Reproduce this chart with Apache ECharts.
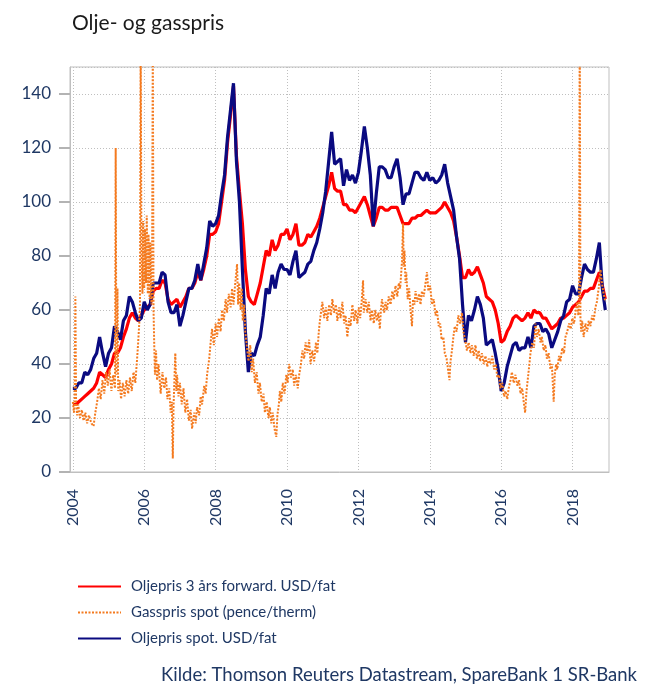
<!DOCTYPE html>
<html>
<head>
<meta charset="utf-8">
<script src="https://cdn.jsdelivr.net/npm/echarts/dist/echarts.min.js"></script>
<style>
html,body{margin:0;padding:0;background:#fff;}
#c{width:654px;height:696px;}
</style>
</head>
<body>
<div id="c"></div>
<script>
// ---- data ----
const startYear = 2004; // monthly series start Jan 2004
const yearTicks = [2004, 2006, 2008, 2010, 2012, 2014, 2016, 2018];

// Oljepris spot, USD/fat (monthly)
const oilSpot = [
  31, 31, 33, 33, 37, 36, 38, 42, 44, 50, 44, 39,
  44, 46, 54, 52, 49, 56, 58, 65, 63, 59, 56, 57,
  63, 60, 62, 70, 70, 70, 74, 73, 63, 59, 59, 62,
  54, 58, 63, 68, 68, 71, 77, 71, 77, 83, 93, 91,
  92, 95, 103, 110, 124, 134, 144, 115, 100, 75, 52, 37,
  44, 43, 47, 50, 58, 68, 66, 73, 68, 74, 77, 75,
  75, 73, 78, 82, 72, 73, 74, 77, 78, 82, 85, 90,
  96, 104, 115, 126, 114, 115, 116, 106, 112, 108, 110, 107,
  111, 119, 128, 120, 110, 91, 103, 113, 113, 112, 109, 109,
  113, 116, 109, 99, 103, 103, 107, 111, 111, 109, 108, 111,
  108, 109, 107, 108, 110, 114, 107, 102, 97, 87, 79, 62,
  48, 58, 56, 60, 65, 62, 57, 47, 48, 49, 44, 38,
  30, 33, 39, 43, 47, 48, 45, 46, 46, 50, 46, 54,
  55, 55, 52, 53, 51, 46, 49, 52, 56, 58, 63, 64,
  69, 66, 66, 72, 77, 75, 74, 74, 79, 85, 68, 60
];

// Oljepris 3 års forward, USD/fat (monthly)
const oilForward = [
  25, 25, 26, 27, 28, 29, 30, 31, 33, 37, 36, 35,
  38, 40, 44, 44, 46, 50, 53, 57, 59, 57, 56, 58,
  60, 61, 62, 67, 68, 68, 71, 70, 64, 62, 63, 64,
  61, 63, 65, 68, 68, 70, 74, 71, 75, 80, 88, 88,
  89, 92, 100, 108, 122, 132, 143, 117, 104, 92, 75, 65,
  63, 62, 66, 70, 76, 82, 80, 86, 82, 84, 88, 88,
  90, 86, 88, 92, 84, 84, 85, 88, 87, 89, 91, 94,
  98, 102, 106, 111, 105, 104, 104, 99, 99, 97, 97, 96,
  98, 100, 102, 99, 95, 91, 94, 98, 98, 97, 97, 98,
  98, 98, 95, 92, 92, 92, 94, 94, 95, 95, 96, 97,
  96, 96, 96, 97, 98, 100, 98, 96, 93, 87, 80, 72,
  72, 75, 73, 74, 76, 73, 70, 65, 64, 63, 60, 55,
  48, 49, 52, 54, 57, 58, 57, 56, 57, 59, 57, 60,
  59, 59, 57, 57, 55, 53, 54, 55, 57, 57, 58, 59,
  61, 62, 63, 65, 67, 67, 68, 68, 71, 74, 69, 64
];

// Gasspris spot, pence/therm: [year, value]
const gasSpot = [
  [2004.00, 26], [2004.03, 22], [2004.05, 27], [2004.07, 65], [2004.09, 25], [2004.12, 21], [2004.15, 25],
  [2004.20, 20], [2004.25, 23], [2004.30, 19], [2004.35, 22], [2004.40, 18], [2004.45, 21], [2004.52, 18],
  [2004.58, 17], [2004.63, 22], [2004.68, 26], [2004.73, 31], [2004.78, 27], [2004.83, 34], [2004.88, 29],
  [2004.93, 37], [2004.98, 32], [2005.03, 38], [2005.08, 30], [2005.13, 36], [2005.18, 31], [2005.20, 120],
  [2005.22, 36], [2005.25, 68], [2005.27, 30], [2005.31, 34], [2005.35, 27], [2005.40, 33], [2005.45, 28],
  [2005.50, 34], [2005.55, 29], [2005.60, 35], [2005.65, 30], [2005.70, 37], [2005.75, 33], [2005.80, 42],
  [2005.83, 48], [2005.86, 55], [2005.88, 62], [2005.90, 160], [2005.92, 85], [2005.95, 66], [2005.97, 93],
  [2006.00, 68], [2006.02, 90], [2006.05, 70], [2006.07, 95], [2006.10, 66], [2006.12, 88], [2006.15, 64],
  [2006.17, 85], [2006.20, 62], [2006.22, 74], [2006.24, 160], [2006.26, 60], [2006.28, 47], [2006.30, 36],
  [2006.33, 45], [2006.36, 34], [2006.40, 40], [2006.46, 29], [2006.51, 37], [2006.56, 31], [2006.61, 35],
  [2006.65, 27], [2006.70, 31], [2006.74, 22], [2006.77, 26], [2006.80, 5], [2006.82, 24], [2006.84, 32],
  [2006.87, 44], [2006.90, 30], [2006.92, 36], [2006.96, 28], [2007.00, 33], [2007.05, 25], [2007.10, 31],
  [2007.15, 22], [2007.20, 27], [2007.25, 19], [2007.30, 23], [2007.34, 16], [2007.40, 22], [2007.44, 18],
  [2007.48, 24], [2007.54, 21], [2007.58, 28], [2007.62, 25], [2007.68, 32], [2007.72, 29], [2007.76, 36],
  [2007.82, 42], [2007.86, 48], [2007.90, 53], [2007.95, 47], [2008.00, 55], [2008.04, 50], [2008.09, 57],
  [2008.14, 52], [2008.18, 60], [2008.23, 56], [2008.28, 64], [2008.32, 59], [2008.37, 66], [2008.42, 61],
  [2008.46, 68], [2008.50, 62], [2008.55, 70], [2008.60, 77], [2008.63, 62], [2008.66, 70], [2008.70, 60],
  [2008.73, 68], [2008.76, 56], [2008.80, 62], [2008.83, 52], [2008.88, 46], [2008.92, 41], [2008.97, 47],
  [2009.01, 37], [2009.05, 42], [2009.10, 33], [2009.15, 37], [2009.20, 29], [2009.24, 33], [2009.29, 26],
  [2009.34, 29], [2009.38, 22], [2009.43, 26], [2009.48, 20], [2009.52, 24], [2009.56, 18], [2009.60, 22],
  [2009.65, 16], [2009.70, 13], [2009.73, 21], [2009.77, 25], [2009.80, 30], [2009.84, 26], [2009.88, 33],
  [2009.93, 29], [2009.98, 36], [2010.02, 33], [2010.06, 40], [2010.11, 35], [2010.16, 38], [2010.20, 32],
  [2010.25, 36], [2010.30, 31], [2010.34, 36], [2010.39, 40], [2010.43, 45], [2010.48, 42], [2010.52, 48],
  [2010.57, 44], [2010.62, 49], [2010.66, 40], [2010.71, 45], [2010.76, 41], [2010.81, 48], [2010.85, 44],
  [2010.89, 52], [2010.92, 56], [2010.96, 60], [2010.99, 63], [2011.04, 57], [2011.09, 61], [2011.13, 56],
  [2011.18, 62], [2011.23, 58], [2011.27, 64], [2011.32, 59], [2011.37, 62], [2011.41, 56], [2011.46, 61],
  [2011.50, 57], [2011.55, 63], [2011.60, 55], [2011.64, 58], [2011.69, 50], [2011.74, 57], [2011.78, 54],
  [2011.83, 62], [2011.88, 56], [2011.92, 60], [2011.97, 55], [2012.01, 61], [2012.05, 57], [2012.09, 63],
  [2012.13, 71], [2012.15, 59], [2012.20, 64], [2012.25, 59], [2012.29, 63], [2012.34, 56], [2012.38, 60],
  [2012.43, 55], [2012.47, 60], [2012.52, 56], [2012.56, 59], [2012.60, 53], [2012.63, 60], [2012.66, 64],
  [2012.72, 59], [2012.76, 63], [2012.80, 60], [2012.85, 65], [2012.90, 62], [2012.95, 67], [2012.99, 64],
  [2013.04, 69], [2013.09, 65], [2013.13, 70], [2013.17, 68], [2013.22, 78], [2013.25, 92], [2013.27, 76],
  [2013.29, 82], [2013.32, 70], [2013.34, 74], [2013.38, 64], [2013.42, 68], [2013.46, 60], [2013.50, 54],
  [2013.53, 64], [2013.57, 62], [2013.60, 67], [2013.65, 63], [2013.70, 66], [2013.74, 62], [2013.78, 67],
  [2013.83, 65], [2013.88, 70], [2013.92, 74], [2013.96, 67], [2014.01, 69], [2014.06, 62], [2014.11, 64],
  [2014.16, 58], [2014.20, 60], [2014.25, 54], [2014.29, 55], [2014.33, 49], [2014.38, 50], [2014.42, 44],
  [2014.47, 42], [2014.51, 38], [2014.55, 34], [2014.58, 41], [2014.62, 45], [2014.66, 50], [2014.70, 54],
  [2014.75, 52], [2014.80, 58], [2014.85, 55], [2014.90, 59], [2014.94, 52], [2014.99, 49], [2015.04, 45],
  [2015.09, 48], [2015.14, 44], [2015.18, 47], [2015.23, 43], [2015.28, 47], [2015.32, 42], [2015.37, 45],
  [2015.41, 41], [2015.46, 44], [2015.51, 40], [2015.56, 43], [2015.61, 39], [2015.65, 42], [2015.70, 40],
  [2015.75, 43], [2015.80, 38], [2015.85, 40], [2015.89, 35], [2015.94, 36], [2015.98, 31], [2016.03, 33],
  [2016.08, 28], [2016.12, 30], [2016.17, 27], [2016.21, 31], [2016.26, 34], [2016.30, 37], [2016.35, 33],
  [2016.40, 36], [2016.45, 32], [2016.50, 34], [2016.54, 29], [2016.59, 31], [2016.63, 26], [2016.67, 22],
  [2016.71, 30], [2016.75, 35], [2016.79, 40], [2016.82, 44], [2016.87, 48], [2016.92, 46], [2016.96, 55],
  [2017.00, 50], [2017.05, 53], [2017.10, 48], [2017.14, 50], [2017.19, 45], [2017.24, 47], [2017.28, 42],
  [2017.33, 44], [2017.38, 38], [2017.42, 40], [2017.47, 26], [2017.50, 36], [2017.54, 40], [2017.57, 38],
  [2017.62, 43], [2017.66, 41], [2017.71, 46], [2017.76, 44], [2017.80, 50], [2017.85, 52], [2017.90, 55],
  [2017.95, 53], [2017.99, 57], [2018.04, 55], [2018.09, 60], [2018.13, 63], [2018.16, 58], [2018.18, 64],
  [2018.20, 165], [2018.22, 57], [2018.24, 52], [2018.27, 56], [2018.31, 50], [2018.36, 55], [2018.41, 52],
  [2018.45, 56], [2018.50, 54], [2018.55, 58], [2018.59, 56], [2018.64, 61], [2018.68, 63], [2018.73, 68],
  [2018.78, 75], [2018.82, 70], [2018.87, 66], [2018.92, 63]
];

const seriesNames = ['Oljepris 3 års forward. USD/fat', 'Gasspris spot (pence/therm)', 'Oljepris spot. USD/fat'];

// monthly time stamps (decimal years)
const monthly = (arr) => arr.map((v, i) => [startYear + i / 12, v]);

const FONT = 'Lato, "Open Sans", sans-serif';
const NAVY_TXT = '#1F3864';

const chart = echarts.init(document.getElementById('c'), null, {renderer: 'canvas'});
chart.setOption({
  animation: false,
  backgroundColor: '#ffffff',
  title: [
    {text: 'Olje- og gasspris', left: 67, top: 8,
     textStyle: {fontFamily: FONT, fontSize: 21, fontWeight: 'normal', color: '#1a1a1a'}},
    {text: 'Kilde: Thomson Reuters Datastream, SpareBank 1 SR-Bank', right: 12, top: 661,
     textStyle: {fontFamily: FONT, fontSize: 18.5, fontWeight: 'normal', color: NAVY_TXT}}
  ],
  legend: {
    orient: 'vertical', left: 77, top: 579, padding: 0,
    itemWidth: 43, itemHeight: 14, itemGap: 11,
    data: seriesNames,
    itemStyle: {opacity: 0},
    textStyle: {fontFamily: FONT, fontSize: 15, color: NAVY_TXT, padding: [0, 0, 0, 5]}
  },
  grid: {left: 70, right: 45, top: 67, bottom: 224, show: true, borderColor: '#bfbfbf', borderWidth: 1, containLabel: false},
  xAxis: {
    type: 'value', min: 2003.92, max: 2019.02,
    axisLine: {show: true, lineStyle: {color: '#bfbfbf', width: 1}},
    axisTick: {show: false, customValues: yearTicks},
    splitLine: {show: true, lineStyle: {color: '#bfbfbf', type: [1, 2], width: 1}},
    axisLabel: {customValues: yearTicks, rotate: 90, margin: 17, fontFamily: FONT, fontSize: 16, color: NAVY_TXT,
                formatter: v => String(Math.round(v))}
  },
  yAxis: {
    type: 'value', min: 0, max: 150, interval: 20,
    axisLine: {show: true, lineStyle: {color: '#bfbfbf', width: 1}},
    axisTick: {show: true, inside: false, length: 11, lineStyle: {color: '#b3b3b3', width: 2}},
    splitLine: {show: true, lineStyle: {color: '#bfbfbf', type: [1, 2], width: 1}},
    axisLabel: {showMaxLabel: false, margin: 19, fontFamily: FONT, fontSize: 17, color: NAVY_TXT}
  },
  series: [
    {name: seriesNames[0], type: 'line', data: monthly(oilForward), showSymbol: false, symbol: 'none',
     lineStyle: {color: '#ff0000', width: 3.2}, itemStyle: {color: '#ff0000'}, z: 2},
    {name: seriesNames[2], type: 'line', data: monthly(oilSpot), showSymbol: false, symbol: 'none',
     lineStyle: {color: '#0a0a80', width: 3.2}, itemStyle: {color: '#0a0a80'}, z: 3},
    {name: seriesNames[1], type: 'line', data: gasSpot, showSymbol: false, symbol: 'none',
     lineStyle: {color: '#f47a1f', width: 2, type: [2, 1.5]}, itemStyle: {color: '#f47a1f'}, z: 4}
  ]
});
</script>
</body>
</html>
